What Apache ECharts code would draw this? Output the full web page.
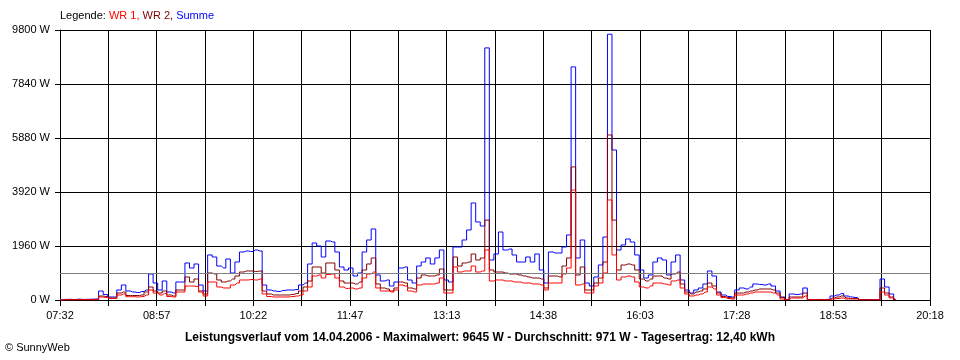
<!DOCTYPE html>
<html>
<head>
<meta charset="utf-8">
<script src="https://cdn.jsdelivr.net/npm/echarts/dist/echarts.min.js"></script>
<style>
html,body{margin:0;padding:0;background:#fff;}
#chart{width:960px;height:360px;}
</style>
</head>
<body>
<div id="chart"></div>
<script>
// ---- data ----
const timeLabels = ['07:32','08:57','10:22','11:47','13:13','14:38','16:03','17:28','18:53','20:18'];
const sampleStepMinutes = 4;      // samples every 4 minutes from 07:32
const axisSpanMinutes = 766;      // 07:32 .. 20:18
const averageW = 971;
const yTicks = [0, 1960, 3920, 5880, 7840, 9800];

const wr1 = [
0,5,10,5,10,10,10,10,15,109,
90,55,55,182,218,120,120,109,127,182,
363,254,182,236,127,109,290,290,508,508,
490,290,145,653,653,472,436,436,545,617,
726,726,744,726,762,218,127,109,109,109,
109,127,145,182,327,472,871,908,799,926,
944,799,472,418,436,400,436,799,944,1016,
436,327,327,290,363,545,508,327,290,545,
581,581,581,617,799,254,254,1198,1016,1053,
1053,1234,1016,1053,1815,690,726,726,690,690,
653,653,617,617,581,581,545,363,617,617,
617,944,1162,3990,545,581,254,254,508,617,
980,3630,1634,726,835,871,835,653,472,436,
508,617,617,581,545,690,726,436,218,145,
182,218,290,472,400,182,90,55,36,182,
182,218,254,290,290,290,290,254,182,36,
7,73,73,73,145,7,8,10,5,10,
36,55,73,36,36,36,8,5,5,5,
5,290,182,73,5
];
const wr2 = [
0,5,10,10,10,10,10,15,15,145,
127,73,73,254,290,163,163,163,182,290,
472,327,254,327,182,145,363,363,835,653,
762,327,218,980,944,726,653,690,762,871,
1016,1053,1053,1035,1053,327,218,182,182,182,
182,200,236,327,472,690,1198,1198,980,1343,
1343,1089,690,617,617,581,653,1089,1307,1525,
581,436,400,327,436,653,617,436,400,799,
908,871,871,908,1125,363,363,1561,1234,1343,
1379,1670,1452,1525,2900,1089,1016,1016,980,944,
944,908,871,835,799,799,762,436,871,871,
835,1234,1525,4830,908,1198,363,363,617,799,
1379,5990,2900,1089,1271,1307,1271,1089,762,690,
762,871,871,799,762,944,1016,581,290,218,
290,327,400,617,508,254,127,90,73,254,
254,290,327,363,400,400,400,363,254,90,
10,109,109,109,254,10,8,10,8,10,
73,109,145,73,55,55,8,8,8,8,
8,436,254,109,5
];
const summe = [
0,20,25,15,30,20,25,30,40,327,
200,109,109,363,545,327,290,272,309,363,
944,617,363,690,290,254,653,653,1343,1162,
1307,545,327,1634,1561,1234,1162,1488,980,1379,
1742,1779,1760,1815,1779,545,363,327,309,345,
363,363,380,545,617,1307,2069,1960,1561,2142,
2105,1742,1198,1089,1162,871,980,1742,2178,2578,
908,690,726,508,653,1162,1198,726,617,1234,
1379,1525,1307,1525,1815,726,653,1924,1924,2178,
2541,3521,2832,2686,9150,1452,1670,2468,1815,1851,
1634,1379,1379,1561,1379,1670,1089,617,1742,1706,
1706,1924,2360,8460,1525,2178,617,508,835,1271,
2287,9645,5445,1815,1997,2214,2105,1634,1089,799,
908,1379,1525,1452,908,1379,1634,726,363,254,
363,436,581,1053,871,290,182,127,109,363,
436,400,472,581,563,545,581,508,327,109,
18,218,200,218,436,18,18,20,15,25,
145,182,236,145,109,90,18,15,15,15,
15,762,472,218,18
];

// ---- chart ----
const FONT = '"Liberation Sans", Arial, sans-serif';
const gridStep = axisSpanMinutes / 18;
const toPairs = arr => arr.map((v, i) => [i * sampleStepMinutes, v]);

const chart = echarts.init(document.getElementById('chart'), null, {renderer: 'canvas'});
chart.setOption({
  animation: false,
  backgroundColor: '#ffffff',
  title: [
    {
      left: 60, top: 10, padding: 0,
      text: '{k|Legende: }{a|WR 1, }{b|WR 2, }{c|Summe}',
      textStyle: {
        fontSize: 11, fontWeight: 'normal', fontFamily: FONT,
        rich: {
          k: {color: '#000000', fontSize: 11, fontFamily: FONT},
          a: {color: '#ff0000', fontSize: 11, fontFamily: FONT},
          b: {color: '#800000', fontSize: 11, fontFamily: FONT},
          c: {color: '#0000ff', fontSize: 11, fontFamily: FONT}
        }
      }
    },
    {
      left: 'center', top: 331, padding: 0,
      text: 'Leistungsverlauf vom 14.04.2006 - Maximalwert: 9645 W - Durchschnitt: 971 W - Tagesertrag: 12,40 kWh',
      textStyle: {fontSize: 12, fontWeight: 'bold', color: '#000', fontFamily: FONT, lineHeight: 13}
    },
    {
      left: 5, top: 342, padding: 0,
      text: '© SunnyWeb',
      textStyle: {fontSize: 11, fontWeight: 'normal', color: '#000', fontFamily: FONT, lineHeight: 12}
    }
  ],
  grid: {left: 60, right: 30, top: 30, bottom: 60, containLabel: false},
  xAxis: {
    type: 'value', min: 0, max: axisSpanMinutes, interval: gridStep,
    axisLine: {show: true, lineStyle: {color: '#000', width: 1}},
    axisTick: {show: true, length: 6, inside: false, lineStyle: {color: '#000', width: 1}},
    axisLabel: {
      show: true, color: '#000', fontSize: 11, fontFamily: FONT, margin: 10,
      showMinLabel: true, showMaxLabel: true,
      formatter: function (v) {
        const k = Math.round(v / gridStep);
        return k % 2 === 0 ? (timeLabels[k / 2] || '') : '';
      }
    },
    splitLine: {show: true, lineStyle: {color: '#000', width: 1, type: 'solid'}}
  },
  yAxis: {
    type: 'value', min: yTicks[0], max: yTicks[yTicks.length - 1], interval: yTicks[1] - yTicks[0],
    axisLine: {show: true, lineStyle: {color: '#000', width: 1}},
    axisTick: {show: true, length: 5, inside: false, lineStyle: {color: '#000', width: 1}},
    axisLabel: {
      show: true, color: '#000', fontSize: 11, fontFamily: FONT, margin: 10,
      formatter: function (v) { return String(v) + ' W'; }
    },
    splitLine: {show: true, lineStyle: {color: '#000', width: 1, type: 'solid'}}
  },
  series: [
    {
      name: 'Summe', type: 'line', data: toPairs(summe), symbol: 'none', showSymbol: false, step: 'middle',
      lineStyle: {color: '#0000ff', width: 1}, itemStyle: {color: '#0000ff'}, z: 2, silent: true,
      markLine: {
        silent: true, symbol: 'none', label: {show: false},
        lineStyle: {color: '#808080', type: 'solid', width: 1},
        data: [{yAxis: averageW}]
      }
    },
    {
      name: 'WR 2', type: 'line', data: toPairs(wr2), symbol: 'none', showSymbol: false, step: 'middle',
      lineStyle: {color: '#800000', width: 1}, itemStyle: {color: '#800000'}, z: 3, silent: true
    },
    {
      name: 'WR 1', type: 'line', data: toPairs(wr1), symbol: 'none', showSymbol: false, step: 'middle',
      lineStyle: {color: '#ff0000', width: 1}, itemStyle: {color: '#ff0000'}, z: 4, silent: true
    }
  ]
});
</script>
</body>
</html>
